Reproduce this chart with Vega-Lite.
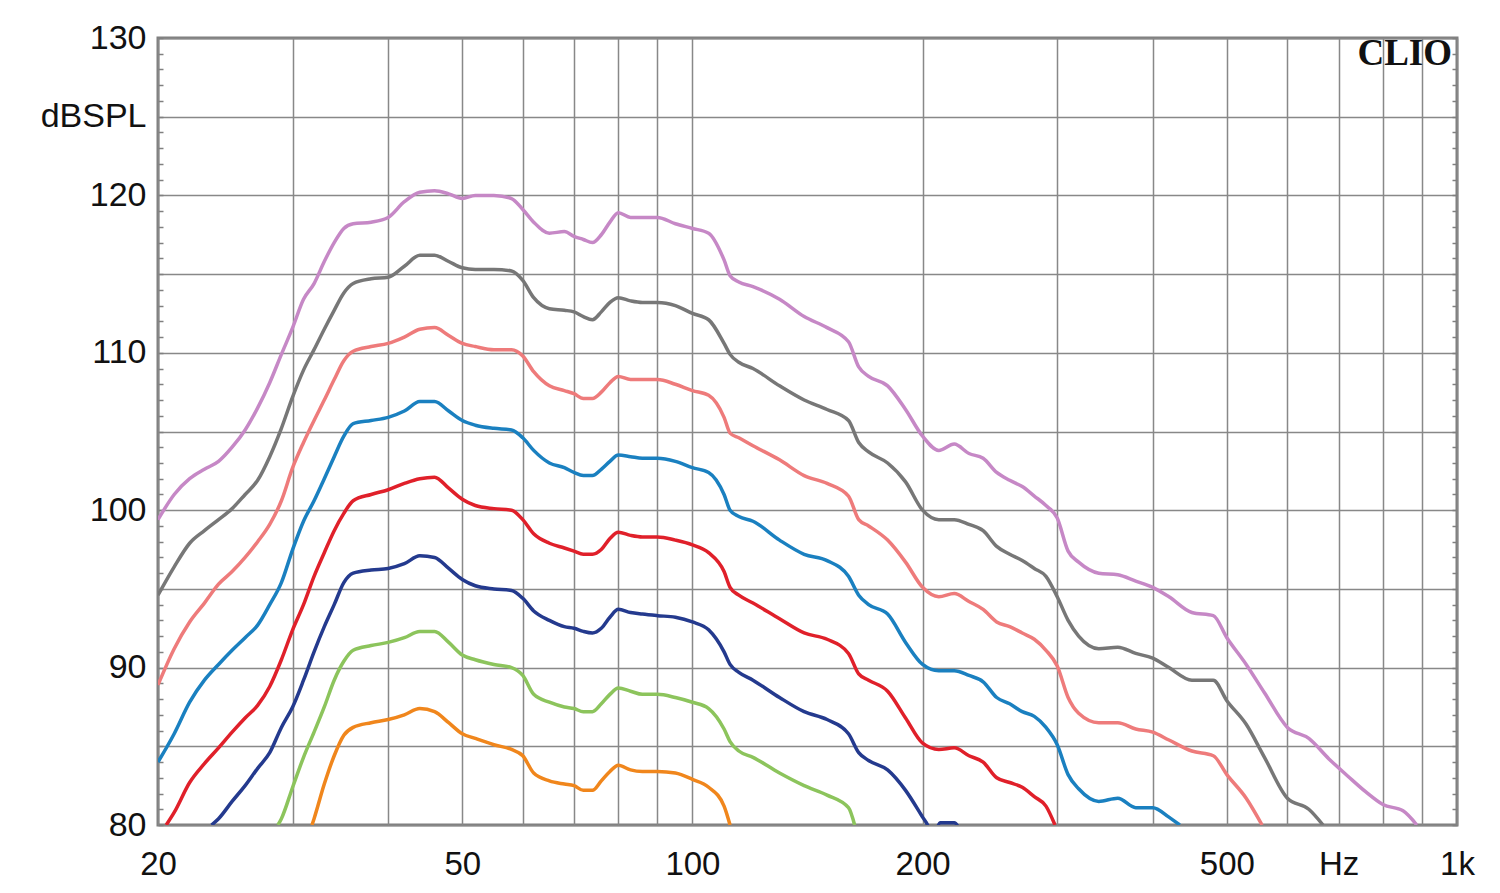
{
"$schema": "https://vega.github.io/schema/vega-lite/v6.json",
"width": 1299, "height": 787,
"autosize": {"type": "none"},
"padding": {"left": 158, "top": 38, "right": 43, "bottom": 68},
"background": "white",
"config": {"view": {"stroke": "#7f7f7f", "strokeWidth": 3}, "font": "Liberation Sans"},
"title": {"text": "CLIO", "anchor": "end", "frame": "group", "orient": "top", "offset": -81, "dx": -5, "font": "Liberation Serif", "fontWeight": "bold", "fontSize": 37, "color": "#111111", "baseline": "alphabetic"},
"datasets": {"curves": [
{"s":"P","f":20,"db":99.4},{"s":"P","f":21,"db":101.0},{"s":"P","f":22,"db":102.0},{"s":"P","f":23,"db":102.6},{"s":"P","f":24,"db":103.1},{"s":"P","f":25,"db":104.0},{"s":"P","f":26,"db":105.1},{"s":"P","f":27,"db":106.5},{"s":"P","f":28,"db":108.1},{"s":"P","f":29,"db":109.9},{"s":"P","f":30,"db":111.6},{"s":"P","f":31,"db":113.4},{"s":"P","f":32,"db":114.4},{"s":"P","f":33,"db":115.8},{"s":"P","f":34,"db":117.0},{"s":"P","f":35,"db":117.9},{"s":"P","f":36,"db":118.2},{"s":"P","f":38,"db":118.3},{"s":"P","f":40,"db":118.6},{"s":"P","f":42,"db":119.6},{"s":"P","f":44,"db":120.2},{"s":"P","f":46,"db":120.3},{"s":"P","f":48,"db":120.1},{"s":"P","f":50,"db":119.8},{"s":"P","f":52,"db":120.0},{"s":"P","f":55,"db":120.0},{"s":"P","f":58,"db":119.8},{"s":"P","f":60,"db":119.1},{"s":"P","f":62,"db":118.3},{"s":"P","f":65,"db":117.6},{"s":"P","f":68,"db":117.7},{"s":"P","f":70,"db":117.4},{"s":"P","f":72,"db":117.2},{"s":"P","f":74,"db":117.0},{"s":"P","f":76,"db":117.5},{"s":"P","f":78,"db":118.3},{"s":"P","f":80,"db":118.9},{"s":"P","f":83,"db":118.6},{"s":"P","f":86,"db":118.6},{"s":"P","f":90,"db":118.6},{"s":"P","f":95,"db":118.2},{"s":"P","f":100,"db":117.9},{"s":"P","f":105,"db":117.6},{"s":"P","f":110,"db":115.9},{"s":"P","f":112,"db":114.9},{"s":"P","f":115,"db":114.5},{"s":"P","f":120,"db":114.2},{"s":"P","f":130,"db":113.4},{"s":"P","f":140,"db":112.3},{"s":"P","f":150,"db":111.6},{"s":"P","f":160,"db":110.7},{"s":"P","f":165,"db":109.1},{"s":"P","f":170,"db":108.5},{"s":"P","f":180,"db":107.9},{"s":"P","f":190,"db":106.4},{"s":"P","f":200,"db":104.7},{"s":"P","f":210,"db":103.8},{"s":"P","f":220,"db":104.2},{"s":"P","f":230,"db":103.6},{"s":"P","f":240,"db":103.3},{"s":"P","f":250,"db":102.4},{"s":"P","f":260,"db":101.9},{"s":"P","f":270,"db":101.5},{"s":"P","f":280,"db":100.9},{"s":"P","f":290,"db":100.3},{"s":"P","f":300,"db":99.5},{"s":"P","f":310,"db":97.4},{"s":"P","f":320,"db":96.7},{"s":"P","f":340,"db":96.0},{"s":"P","f":360,"db":95.9},{"s":"P","f":380,"db":95.5},{"s":"P","f":400,"db":95.1},{"s":"P","f":420,"db":94.5},{"s":"P","f":450,"db":93.5},{"s":"P","f":480,"db":93.3},{"s":"P","f":500,"db":91.9},{"s":"P","f":530,"db":90.2},{"s":"P","f":560,"db":88.4},{"s":"P","f":600,"db":86.2},{"s":"P","f":640,"db":85.5},{"s":"P","f":680,"db":84.2},{"s":"P","f":720,"db":83.1},{"s":"P","f":760,"db":82.1},{"s":"P","f":800,"db":81.3},{"s":"P","f":850,"db":80.9},{"s":"P","f":886,"db":80.0},
{"s":"G","f":20,"db":94.6},{"s":"G","f":21,"db":96.4},{"s":"G","f":22,"db":97.9},{"s":"G","f":23,"db":98.7},{"s":"G","f":24,"db":99.4},{"s":"G","f":25,"db":100.1},{"s":"G","f":26,"db":101.0},{"s":"G","f":27,"db":101.9},{"s":"G","f":28,"db":103.4},{"s":"G","f":29,"db":105.2},{"s":"G","f":30,"db":107.2},{"s":"G","f":31,"db":108.9},{"s":"G","f":32,"db":110.2},{"s":"G","f":33,"db":111.5},{"s":"G","f":34,"db":112.7},{"s":"G","f":35,"db":113.8},{"s":"G","f":36,"db":114.4},{"s":"G","f":38,"db":114.7},{"s":"G","f":40,"db":114.8},{"s":"G","f":42,"db":115.5},{"s":"G","f":44,"db":116.2},{"s":"G","f":46,"db":116.2},{"s":"G","f":48,"db":115.8},{"s":"G","f":50,"db":115.4},{"s":"G","f":52,"db":115.3},{"s":"G","f":55,"db":115.3},{"s":"G","f":58,"db":115.2},{"s":"G","f":60,"db":114.6},{"s":"G","f":62,"db":113.5},{"s":"G","f":65,"db":112.8},{"s":"G","f":68,"db":112.7},{"s":"G","f":70,"db":112.6},{"s":"G","f":72,"db":112.3},{"s":"G","f":74,"db":112.1},{"s":"G","f":76,"db":112.6},{"s":"G","f":78,"db":113.2},{"s":"G","f":80,"db":113.5},{"s":"G","f":83,"db":113.3},{"s":"G","f":86,"db":113.2},{"s":"G","f":90,"db":113.2},{"s":"G","f":95,"db":113.0},{"s":"G","f":100,"db":112.5},{"s":"G","f":105,"db":112.1},{"s":"G","f":110,"db":110.6},{"s":"G","f":112,"db":109.9},{"s":"G","f":115,"db":109.4},{"s":"G","f":120,"db":109.0},{"s":"G","f":130,"db":107.9},{"s":"G","f":140,"db":107.0},{"s":"G","f":150,"db":106.4},{"s":"G","f":160,"db":105.7},{"s":"G","f":165,"db":104.3},{"s":"G","f":170,"db":103.7},{"s":"G","f":180,"db":103.0},{"s":"G","f":190,"db":101.8},{"s":"G","f":200,"db":100.0},{"s":"G","f":210,"db":99.4},{"s":"G","f":220,"db":99.4},{"s":"G","f":230,"db":99.1},{"s":"G","f":240,"db":98.7},{"s":"G","f":250,"db":97.7},{"s":"G","f":260,"db":97.2},{"s":"G","f":270,"db":96.8},{"s":"G","f":280,"db":96.3},{"s":"G","f":290,"db":95.8},{"s":"G","f":300,"db":94.5},{"s":"G","f":310,"db":93.0},{"s":"G","f":320,"db":92.0},{"s":"G","f":340,"db":91.2},{"s":"G","f":360,"db":91.3},{"s":"G","f":380,"db":90.9},{"s":"G","f":400,"db":90.6},{"s":"G","f":420,"db":90.0},{"s":"G","f":450,"db":89.2},{"s":"G","f":480,"db":89.2},{"s":"G","f":500,"db":87.9},{"s":"G","f":530,"db":86.4},{"s":"G","f":560,"db":84.3},{"s":"G","f":600,"db":81.7},{"s":"G","f":640,"db":81.0},{"s":"G","f":668,"db":80.0},
{"s":"S","f":20,"db":88.9},{"s":"S","f":21,"db":91.2},{"s":"S","f":22,"db":92.9},{"s":"S","f":23,"db":94.1},{"s":"S","f":24,"db":95.3},{"s":"S","f":25,"db":96.1},{"s":"S","f":26,"db":97.0},{"s":"S","f":27,"db":98.0},{"s":"S","f":28,"db":99.1},{"s":"S","f":29,"db":100.6},{"s":"S","f":30,"db":102.7},{"s":"S","f":31,"db":104.3},{"s":"S","f":32,"db":105.7},{"s":"S","f":33,"db":107.0},{"s":"S","f":34,"db":108.3},{"s":"S","f":35,"db":109.5},{"s":"S","f":36,"db":110.1},{"s":"S","f":38,"db":110.4},{"s":"S","f":40,"db":110.6},{"s":"S","f":42,"db":111.0},{"s":"S","f":44,"db":111.5},{"s":"S","f":46,"db":111.6},{"s":"S","f":48,"db":111.1},{"s":"S","f":50,"db":110.6},{"s":"S","f":52,"db":110.4},{"s":"S","f":55,"db":110.2},{"s":"S","f":58,"db":110.2},{"s":"S","f":60,"db":109.8},{"s":"S","f":62,"db":108.8},{"s":"S","f":65,"db":107.9},{"s":"S","f":68,"db":107.6},{"s":"S","f":70,"db":107.4},{"s":"S","f":72,"db":107.1},{"s":"S","f":74,"db":107.1},{"s":"S","f":76,"db":107.5},{"s":"S","f":78,"db":108.1},{"s":"S","f":80,"db":108.5},{"s":"S","f":83,"db":108.3},{"s":"S","f":86,"db":108.3},{"s":"S","f":90,"db":108.3},{"s":"S","f":95,"db":108.0},{"s":"S","f":100,"db":107.6},{"s":"S","f":105,"db":107.3},{"s":"S","f":110,"db":105.9},{"s":"S","f":112,"db":104.9},{"s":"S","f":115,"db":104.6},{"s":"S","f":120,"db":104.1},{"s":"S","f":130,"db":103.2},{"s":"S","f":140,"db":102.2},{"s":"S","f":150,"db":101.7},{"s":"S","f":160,"db":100.9},{"s":"S","f":165,"db":99.4},{"s":"S","f":170,"db":99.0},{"s":"S","f":180,"db":98.1},{"s":"S","f":190,"db":96.7},{"s":"S","f":200,"db":95.1},{"s":"S","f":210,"db":94.5},{"s":"S","f":220,"db":94.7},{"s":"S","f":230,"db":94.2},{"s":"S","f":240,"db":93.7},{"s":"S","f":250,"db":92.9},{"s":"S","f":260,"db":92.6},{"s":"S","f":270,"db":92.2},{"s":"S","f":280,"db":91.8},{"s":"S","f":290,"db":91.1},{"s":"S","f":300,"db":90.1},{"s":"S","f":310,"db":88.1},{"s":"S","f":320,"db":87.1},{"s":"S","f":340,"db":86.5},{"s":"S","f":360,"db":86.5},{"s":"S","f":380,"db":86.1},{"s":"S","f":400,"db":85.9},{"s":"S","f":420,"db":85.4},{"s":"S","f":450,"db":84.7},{"s":"S","f":480,"db":84.4},{"s":"S","f":500,"db":83.2},{"s":"S","f":530,"db":81.7},{"s":"S","f":556,"db":80.0},
{"s":"B","f":20,"db":84.0},{"s":"B","f":21,"db":85.8},{"s":"B","f":22,"db":87.8},{"s":"B","f":23,"db":89.2},{"s":"B","f":24,"db":90.2},{"s":"B","f":25,"db":91.1},{"s":"B","f":26,"db":91.9},{"s":"B","f":27,"db":92.7},{"s":"B","f":28,"db":94.0},{"s":"B","f":29,"db":95.4},{"s":"B","f":30,"db":97.5},{"s":"B","f":31,"db":99.3},{"s":"B","f":32,"db":100.6},{"s":"B","f":33,"db":102.0},{"s":"B","f":34,"db":103.4},{"s":"B","f":35,"db":104.7},{"s":"B","f":36,"db":105.5},{"s":"B","f":38,"db":105.7},{"s":"B","f":40,"db":105.9},{"s":"B","f":42,"db":106.3},{"s":"B","f":44,"db":106.9},{"s":"B","f":46,"db":106.9},{"s":"B","f":48,"db":106.3},{"s":"B","f":50,"db":105.7},{"s":"B","f":52,"db":105.4},{"s":"B","f":55,"db":105.2},{"s":"B","f":58,"db":105.1},{"s":"B","f":60,"db":104.6},{"s":"B","f":62,"db":103.8},{"s":"B","f":65,"db":103.0},{"s":"B","f":68,"db":102.7},{"s":"B","f":70,"db":102.4},{"s":"B","f":72,"db":102.2},{"s":"B","f":74,"db":102.2},{"s":"B","f":76,"db":102.6},{"s":"B","f":78,"db":103.1},{"s":"B","f":80,"db":103.5},{"s":"B","f":83,"db":103.4},{"s":"B","f":86,"db":103.3},{"s":"B","f":90,"db":103.3},{"s":"B","f":95,"db":103.1},{"s":"B","f":100,"db":102.7},{"s":"B","f":105,"db":102.4},{"s":"B","f":110,"db":101.0},{"s":"B","f":112,"db":100.0},{"s":"B","f":115,"db":99.6},{"s":"B","f":120,"db":99.3},{"s":"B","f":130,"db":98.1},{"s":"B","f":140,"db":97.2},{"s":"B","f":150,"db":96.8},{"s":"B","f":160,"db":95.8},{"s":"B","f":165,"db":94.6},{"s":"B","f":170,"db":94.0},{"s":"B","f":180,"db":93.4},{"s":"B","f":190,"db":91.6},{"s":"B","f":200,"db":90.2},{"s":"B","f":210,"db":89.8},{"s":"B","f":220,"db":89.8},{"s":"B","f":230,"db":89.5},{"s":"B","f":240,"db":89.1},{"s":"B","f":250,"db":88.1},{"s":"B","f":260,"db":87.7},{"s":"B","f":270,"db":87.2},{"s":"B","f":280,"db":86.9},{"s":"B","f":290,"db":86.2},{"s":"B","f":300,"db":85.1},{"s":"B","f":310,"db":83.2},{"s":"B","f":320,"db":82.3},{"s":"B","f":340,"db":81.5},{"s":"B","f":360,"db":81.7},{"s":"B","f":380,"db":81.1},{"s":"B","f":400,"db":81.1},{"s":"B","f":420,"db":80.5},{"s":"B","f":434,"db":80.0},
{"s":"R","f":20.5,"db":80.0},{"s":"R","f":21,"db":80.8},{"s":"R","f":22,"db":82.7},{"s":"R","f":23,"db":83.9},{"s":"R","f":24,"db":84.9},{"s":"R","f":25,"db":85.9},{"s":"R","f":26,"db":86.8},{"s":"R","f":27,"db":87.6},{"s":"R","f":28,"db":88.8},{"s":"R","f":29,"db":90.5},{"s":"R","f":30,"db":92.4},{"s":"R","f":31,"db":94.0},{"s":"R","f":32,"db":95.8},{"s":"R","f":33,"db":97.3},{"s":"R","f":34,"db":98.7},{"s":"R","f":35,"db":99.8},{"s":"R","f":36,"db":100.6},{"s":"R","f":38,"db":101.0},{"s":"R","f":40,"db":101.3},{"s":"R","f":42,"db":101.7},{"s":"R","f":44,"db":102.0},{"s":"R","f":46,"db":102.1},{"s":"R","f":48,"db":101.4},{"s":"R","f":50,"db":100.7},{"s":"R","f":52,"db":100.3},{"s":"R","f":55,"db":100.1},{"s":"R","f":58,"db":100.0},{"s":"R","f":60,"db":99.4},{"s":"R","f":62,"db":98.5},{"s":"R","f":65,"db":97.9},{"s":"R","f":68,"db":97.6},{"s":"R","f":70,"db":97.4},{"s":"R","f":72,"db":97.2},{"s":"R","f":74,"db":97.2},{"s":"R","f":76,"db":97.5},{"s":"R","f":78,"db":98.2},{"s":"R","f":80,"db":98.6},{"s":"R","f":83,"db":98.4},{"s":"R","f":86,"db":98.3},{"s":"R","f":90,"db":98.3},{"s":"R","f":95,"db":98.1},{"s":"R","f":100,"db":97.8},{"s":"R","f":105,"db":97.3},{"s":"R","f":110,"db":96.1},{"s":"R","f":112,"db":95.1},{"s":"R","f":115,"db":94.6},{"s":"R","f":120,"db":94.1},{"s":"R","f":130,"db":93.1},{"s":"R","f":140,"db":92.2},{"s":"R","f":150,"db":91.8},{"s":"R","f":160,"db":90.9},{"s":"R","f":165,"db":89.6},{"s":"R","f":170,"db":89.2},{"s":"R","f":180,"db":88.5},{"s":"R","f":190,"db":86.8},{"s":"R","f":200,"db":85.2},{"s":"R","f":210,"db":84.8},{"s":"R","f":220,"db":84.9},{"s":"R","f":230,"db":84.4},{"s":"R","f":240,"db":84.0},{"s":"R","f":250,"db":83.0},{"s":"R","f":260,"db":82.7},{"s":"R","f":270,"db":82.4},{"s":"R","f":280,"db":81.8},{"s":"R","f":290,"db":81.2},{"s":"R","f":298,"db":80.0},
{"s":"D","f":23.5,"db":80.0},{"s":"D","f":24,"db":80.4},{"s":"D","f":25,"db":81.5},{"s":"D","f":26,"db":82.5},{"s":"D","f":27,"db":83.6},{"s":"D","f":28,"db":84.6},{"s":"D","f":29,"db":86.2},{"s":"D","f":30,"db":87.5},{"s":"D","f":31,"db":89.2},{"s":"D","f":32,"db":91.0},{"s":"D","f":33,"db":92.6},{"s":"D","f":34,"db":94.0},{"s":"D","f":35,"db":95.4},{"s":"D","f":36,"db":96.0},{"s":"D","f":38,"db":96.2},{"s":"D","f":40,"db":96.3},{"s":"D","f":42,"db":96.6},{"s":"D","f":44,"db":97.1},{"s":"D","f":46,"db":97.0},{"s":"D","f":48,"db":96.3},{"s":"D","f":50,"db":95.6},{"s":"D","f":52,"db":95.2},{"s":"D","f":55,"db":95.0},{"s":"D","f":58,"db":94.9},{"s":"D","f":60,"db":94.4},{"s":"D","f":62,"db":93.6},{"s":"D","f":65,"db":93.0},{"s":"D","f":68,"db":92.6},{"s":"D","f":70,"db":92.5},{"s":"D","f":72,"db":92.3},{"s":"D","f":74,"db":92.2},{"s":"D","f":76,"db":92.5},{"s":"D","f":78,"db":93.2},{"s":"D","f":80,"db":93.7},{"s":"D","f":83,"db":93.5},{"s":"D","f":86,"db":93.4},{"s":"D","f":90,"db":93.3},{"s":"D","f":95,"db":93.2},{"s":"D","f":100,"db":92.9},{"s":"D","f":105,"db":92.4},{"s":"D","f":110,"db":91.0},{"s":"D","f":112,"db":90.2},{"s":"D","f":115,"db":89.7},{"s":"D","f":120,"db":89.2},{"s":"D","f":130,"db":88.1},{"s":"D","f":140,"db":87.2},{"s":"D","f":150,"db":86.7},{"s":"D","f":160,"db":85.8},{"s":"D","f":165,"db":84.6},{"s":"D","f":170,"db":84.1},{"s":"D","f":180,"db":83.5},{"s":"D","f":190,"db":82.2},{"s":"D","f":200,"db":80.5},{"s":"D","f":203,"db":80.0},{"s":"D","f":206,"db":79.0},{"s":"D","f":211,"db":80.15},{"s":"D","f":220,"db":80.15},{"s":"D","f":226,"db":79.0},
{"s":"Gr","f":28.7,"db":80.0},{"s":"Gr","f":29,"db":80.4},{"s":"Gr","f":30,"db":82.4},{"s":"Gr","f":31,"db":84.3},{"s":"Gr","f":32,"db":85.9},{"s":"Gr","f":33,"db":87.5},{"s":"Gr","f":34,"db":89.2},{"s":"Gr","f":35,"db":90.4},{"s":"Gr","f":36,"db":91.1},{"s":"Gr","f":38,"db":91.4},{"s":"Gr","f":40,"db":91.6},{"s":"Gr","f":42,"db":91.9},{"s":"Gr","f":44,"db":92.3},{"s":"Gr","f":46,"db":92.3},{"s":"Gr","f":48,"db":91.6},{"s":"Gr","f":50,"db":90.8},{"s":"Gr","f":52,"db":90.5},{"s":"Gr","f":55,"db":90.2},{"s":"Gr","f":58,"db":90.0},{"s":"Gr","f":60,"db":89.5},{"s":"Gr","f":62,"db":88.3},{"s":"Gr","f":65,"db":87.8},{"s":"Gr","f":68,"db":87.5},{"s":"Gr","f":70,"db":87.4},{"s":"Gr","f":72,"db":87.2},{"s":"Gr","f":74,"db":87.2},{"s":"Gr","f":76,"db":87.7},{"s":"Gr","f":78,"db":88.3},{"s":"Gr","f":80,"db":88.7},{"s":"Gr","f":83,"db":88.5},{"s":"Gr","f":86,"db":88.3},{"s":"Gr","f":90,"db":88.3},{"s":"Gr","f":95,"db":88.1},{"s":"Gr","f":100,"db":87.8},{"s":"Gr","f":105,"db":87.4},{"s":"Gr","f":110,"db":86.1},{"s":"Gr","f":112,"db":85.3},{"s":"Gr","f":115,"db":84.7},{"s":"Gr","f":120,"db":84.3},{"s":"Gr","f":130,"db":83.3},{"s":"Gr","f":140,"db":82.5},{"s":"Gr","f":150,"db":81.9},{"s":"Gr","f":160,"db":81.1},{"s":"Gr","f":163,"db":80.0},
{"s":"O","f":31.8,"db":80.0},{"s":"O","f":32,"db":80.4},{"s":"O","f":33,"db":82.6},{"s":"O","f":34,"db":84.4},{"s":"O","f":35,"db":85.7},{"s":"O","f":36,"db":86.2},{"s":"O","f":38,"db":86.5},{"s":"O","f":40,"db":86.7},{"s":"O","f":42,"db":87.0},{"s":"O","f":44,"db":87.4},{"s":"O","f":46,"db":87.2},{"s":"O","f":48,"db":86.5},{"s":"O","f":50,"db":85.8},{"s":"O","f":52,"db":85.5},{"s":"O","f":55,"db":85.1},{"s":"O","f":58,"db":84.8},{"s":"O","f":60,"db":84.4},{"s":"O","f":62,"db":83.3},{"s":"O","f":65,"db":82.8},{"s":"O","f":68,"db":82.6},{"s":"O","f":70,"db":82.5},{"s":"O","f":72,"db":82.2},{"s":"O","f":74,"db":82.2},{"s":"O","f":76,"db":82.8},{"s":"O","f":78,"db":83.4},{"s":"O","f":80,"db":83.8},{"s":"O","f":83,"db":83.5},{"s":"O","f":86,"db":83.4},{"s":"O","f":90,"db":83.4},{"s":"O","f":95,"db":83.3},{"s":"O","f":100,"db":82.9},{"s":"O","f":105,"db":82.4},{"s":"O","f":110,"db":81.2},{"s":"O","f":112,"db":80.0}
]},
"data": {"name": "curves"},
"resolve": {"axis": {"y": "independent"}},
"layer": [
 {
  "transform": [{"filter": {"field": "s", "oneOf": ["P", "G", "S", "B"]}}],
  "mark": {"type": "line", "strokeWidth": 3.5, "clip": true, "interpolate": "monotone"},
  "encoding": {
   "x": {"field": "f", "type": "quantitative", "scale": {"type": "log", "domain": [20, 1000], "nice": false},
    "axis": {"orient": "bottom", "values": [20,30,40,50,60,70,80,90,100,200,300,400,500,600,700,800,900,1000],
     "labelExpr": "datum.value==20?'20':datum.value==50?'50':datum.value==100?'100':datum.value==200?'200':datum.value==500?'500':datum.value==700?'Hz':datum.value==1000?'1k':''",
     "grid": true, "gridColor": "#888888", "gridWidth": 1.5, "ticks": false, "domain": false,
     "labelFont": "Liberation Sans", "labelFontSize": 33, "labelColor": "#111111", "labelPadding": 23,
     "labelFlush": false, "labelOverlap": false, "labelBound": false, "title": null}},
   "y": {"field": "db", "type": "quantitative", "scale": {"domain": [80, 130], "nice": false, "zero": false},
    "axis": {"orient": "left", "values": [80,81,82,83,84,85,86,87,88,89,90,91,92,93,94,95,96,97,98,99,100,101,102,103,104,105,106,107,108,109,110,111,112,113,114,115,116,117,118,119,120,121,122,123,124,125,126,127,128,129,130],
     "labelExpr": "datum.value==125?'dBSPL':(datum.value%10==0?datum.label:'')",
     "grid": true, "gridColor": "#888888", "gridWidth": 1.5,
     "gridOpacity": {"condition": {"test": "datum.value%5==0", "value": 1}, "value": 0},
     "ticks": true, "tickSize": -5, "tickColor": "#808080", "tickWidth": 1.5, "domain": false,
     "labelFont": "Liberation Sans", "labelFontSize": 34, "labelColor": "#111111", "labelPadding": 17,
     "labelOverlap": false, "labelBound": false, "title": null}},
   "color": {"field": "s", "type": "nominal", "legend": null,
    "scale": {"domain": ["P", "G", "S", "B", "R", "D", "Gr", "O"], "range": ["#c688c6", "#777777", "#ee7b7b", "#1a80c0", "#e0202a", "#243a8e", "#8cc45c", "#f0861c"]}}
  }
 },
 {
  "transform": [{"filter": {"field": "s", "oneOf": ["R", "D", "Gr", "O"]}}],
  "mark": {"type": "line", "strokeWidth": 3.5, "clip": true, "interpolate": "monotone"},
  "encoding": {
   "x": {"field": "f", "type": "quantitative", "scale": {"type": "log", "domain": [20, 1000], "nice": false}},
   "y": {"field": "db", "type": "quantitative", "scale": {"domain": [80, 130], "nice": false, "zero": false},
    "axis": {"orient": "right", "values": [80,81,82,83,84,85,86,87,88,89,90,91,92,93,94,95,96,97,98,99,100,101,102,103,104,105,106,107,108,109,110,111,112,113,114,115,116,117,118,119,120,121,122,123,124,125,126,127,128,129,130],
     "labels": false, "grid": false, "ticks": true, "tickSize": -5, "tickColor": "#808080", "tickWidth": 1.5, "domain": false, "title": null}},
   "color": {"field": "s", "type": "nominal", "legend": null,
    "scale": {"domain": ["P", "G", "S", "B", "R", "D", "Gr", "O"], "range": ["#c688c6", "#777777", "#ee7b7b", "#1a80c0", "#e0202a", "#243a8e", "#8cc45c", "#f0861c"]}}
  }
 }
]
}
